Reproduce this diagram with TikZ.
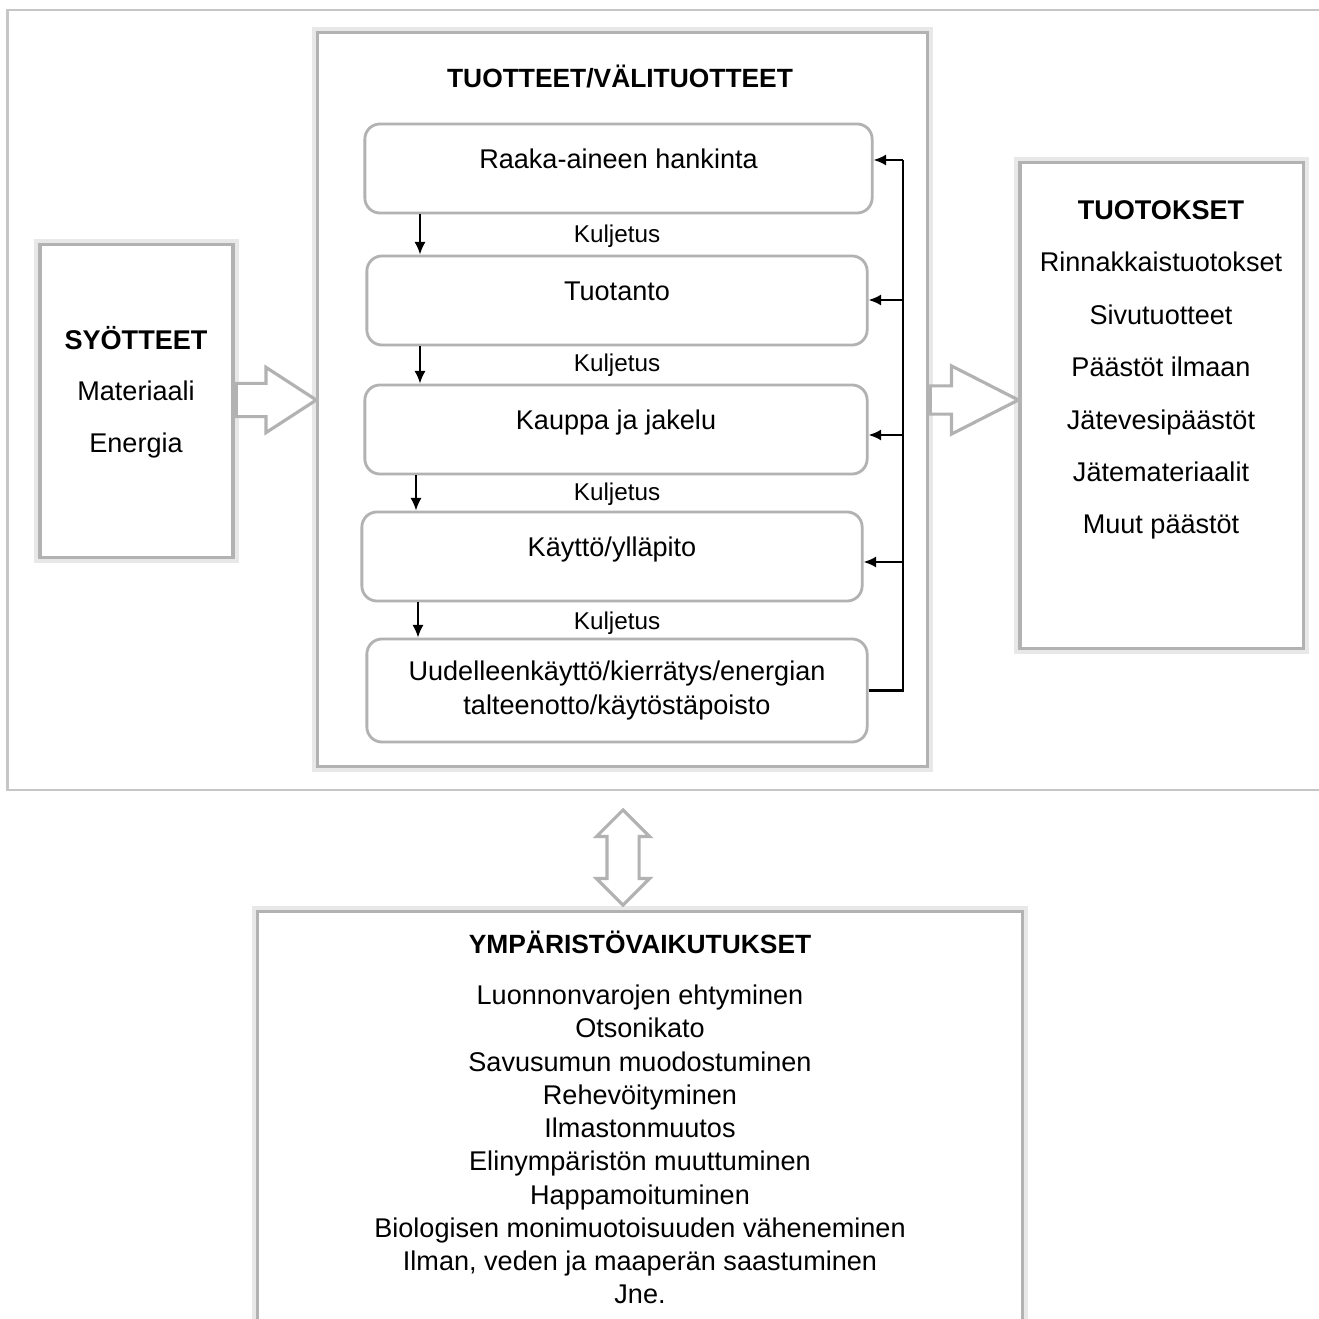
\documentclass[tikz,border=0pt]{standalone}
\usepackage{fontspec}
\setmainfont{Liberation Sans}
\usetikzlibrary{arrows.meta,shapes.arrows}
\tikzset{frame/.style={draw=gray!45, line width=0.7pt},
  panel/.style={draw=gray!60, line width=0.9pt, fill=white,
    preaction={draw=gray!18, line width=3.5pt}},
  stage/.style={draw=gray!60, line width=0.8pt, rounded corners=4.3pt, fill=white,
    minimum height=0.89cm, text height=0.2cm, text depth=0.2cm},
  head/.style={font=\fontsize{7.5}{9}\selectfont\bfseries},
  kul/.style={font=\fontsize{6.9}{8}\selectfont},
  list/.style={align=center},
  blk/.style={single arrow, draw=gray!60, line width=0.9pt, fill=white, inner xsep=0pt},
  flow/.style={-{Latex[length=3.6pt,width=3.2pt]}, line width=0.6pt},
  back/.style={line width=0.6pt}}

\begin{document}
\begin{tikzpicture}[x=0.01cm, y=-0.01cm, font=\fontsize{7.7}{9.4}\selectfont]
\useasboundingbox (0,0) rectangle (1319,1319);
% system boundary
\node[frame, minimum width=13.22cm, minimum height=7.8cm] (sys) at (669,400) {};

% life cycle stages
\node[panel, minimum width=6.09cm, minimum height=7.33cm] (mid) at (622.5,399.5) {};
\node[head] (midtitle) at (620,77) {TUOTTEET/VÄLITUOTTEET};
\node[stage, minimum width=5.07cm] (b1) at (618.5,168.5) {Raaka-aineen hankinta};
\node[stage, minimum width=5.0cm] (b2) at (617,300.5) {Tuotanto};
\node[stage, minimum width=5.02cm] (b3) at (616,429.5) {Kauppa ja jakelu};
\node[stage, minimum width=5.0cm] (b4) at (612,556.5) {Käyttö/ylläpito};
\node[stage, minimum width=5.0cm, minimum height=1.03cm, text height=, text depth=, align=center]
  (b5) at (617,690.5) {Uudelleenkäyttö/kierrätys/energian\\talteenotto/käytöstäpoisto};
\foreach \y [count=\i] in {236,365,494,623}
  \node[kul] (k\i) at (617,\y) {Kuljetus};
\foreach \a/\b/\x in {b1/b2/420, b2/b3/420, b3/b4/416, b4/b5/418}
  \draw[flow] (\a.south -| \x,0) -- (\b.north -| \x,0);

% feedback
\coordinate (fb) at (903,160);
\draw[back] (b5.east) -| (fb);
\foreach \b/\y in {b1/160, b2/300, b3/435, b4/562}
  \draw[flow] (fb |- 0,\y) -- (\b.east |- 0,\y);

% inputs
\node[panel, minimum width=1.93cm, minimum height=3.12cm] (syo) at (136.5,401) {};
\node[list, font=\fontsize{7.7}{14.65}\selectfont] (syotext) at (136,392)
  {\textbf{SYÖTTEET}\\Materiaali\\Energia};

% outputs
\node[panel, minimum width=2.83cm, minimum height=4.85cm] (out) at (1161.5,405.5) {};
\node[list, font=\fontsize{7.7}{14.9}\selectfont] (outtext) at (1161,370)
  {\textbf{TUOTOKSET}\\Rinnakkaistuotokset\\Sivutuotteet\\Päästöt ilmaan\\Jätevesipäästöt\\Jätemateriaalit\\Muut päästöt};

% block arrows
\node[blk, anchor=tail, inner ysep=0.15cm, minimum height=0.8cm, minimum width=0.62cm,
  single arrow head extend=0.16cm, single arrow tip angle=66] (inarr) at (syo.east |- 0,400) {};
\node[blk, anchor=tail, inner ysep=0.125cm, minimum height=0.88cm, minimum width=0.65cm,
  single arrow head extend=0.2cm, single arrow tip angle=54] (outarr) at (mid.east |- 0,400) {};

% environmental impacts
\node[panel, minimum width=7.64cm, minimum height=4.18cm] (env) at (640,1121) {};
\node[head] (envtitle) at (640,942) {YMPÄRISTÖVAIKUTUKSET};
\node[list, font=\fontsize{7.7}{9.45}\selectfont] (envtext) at (640,1144.5)
  {Luonnonvarojen ehtyminen\\Otsonikato\\Savusumun muodostuminen\\Rehevöityminen\\Ilmastonmuutos\\Elinympäristön muuttuminen\\Happamoituminen\\Biologisen monimuotoisuuden väheneminen\\Ilman, veden ja maaperän saastuminen\\Jne.};
\node[double arrow, draw=gray!60, line width=0.9pt, fill=white, rotate=90, inner sep=0.145cm,
  minimum height=0.95cm, minimum width=0.5cm, double arrow head extend=0.105cm] (link) at (623,857.5) {};
\end{tikzpicture}
\end{document}
